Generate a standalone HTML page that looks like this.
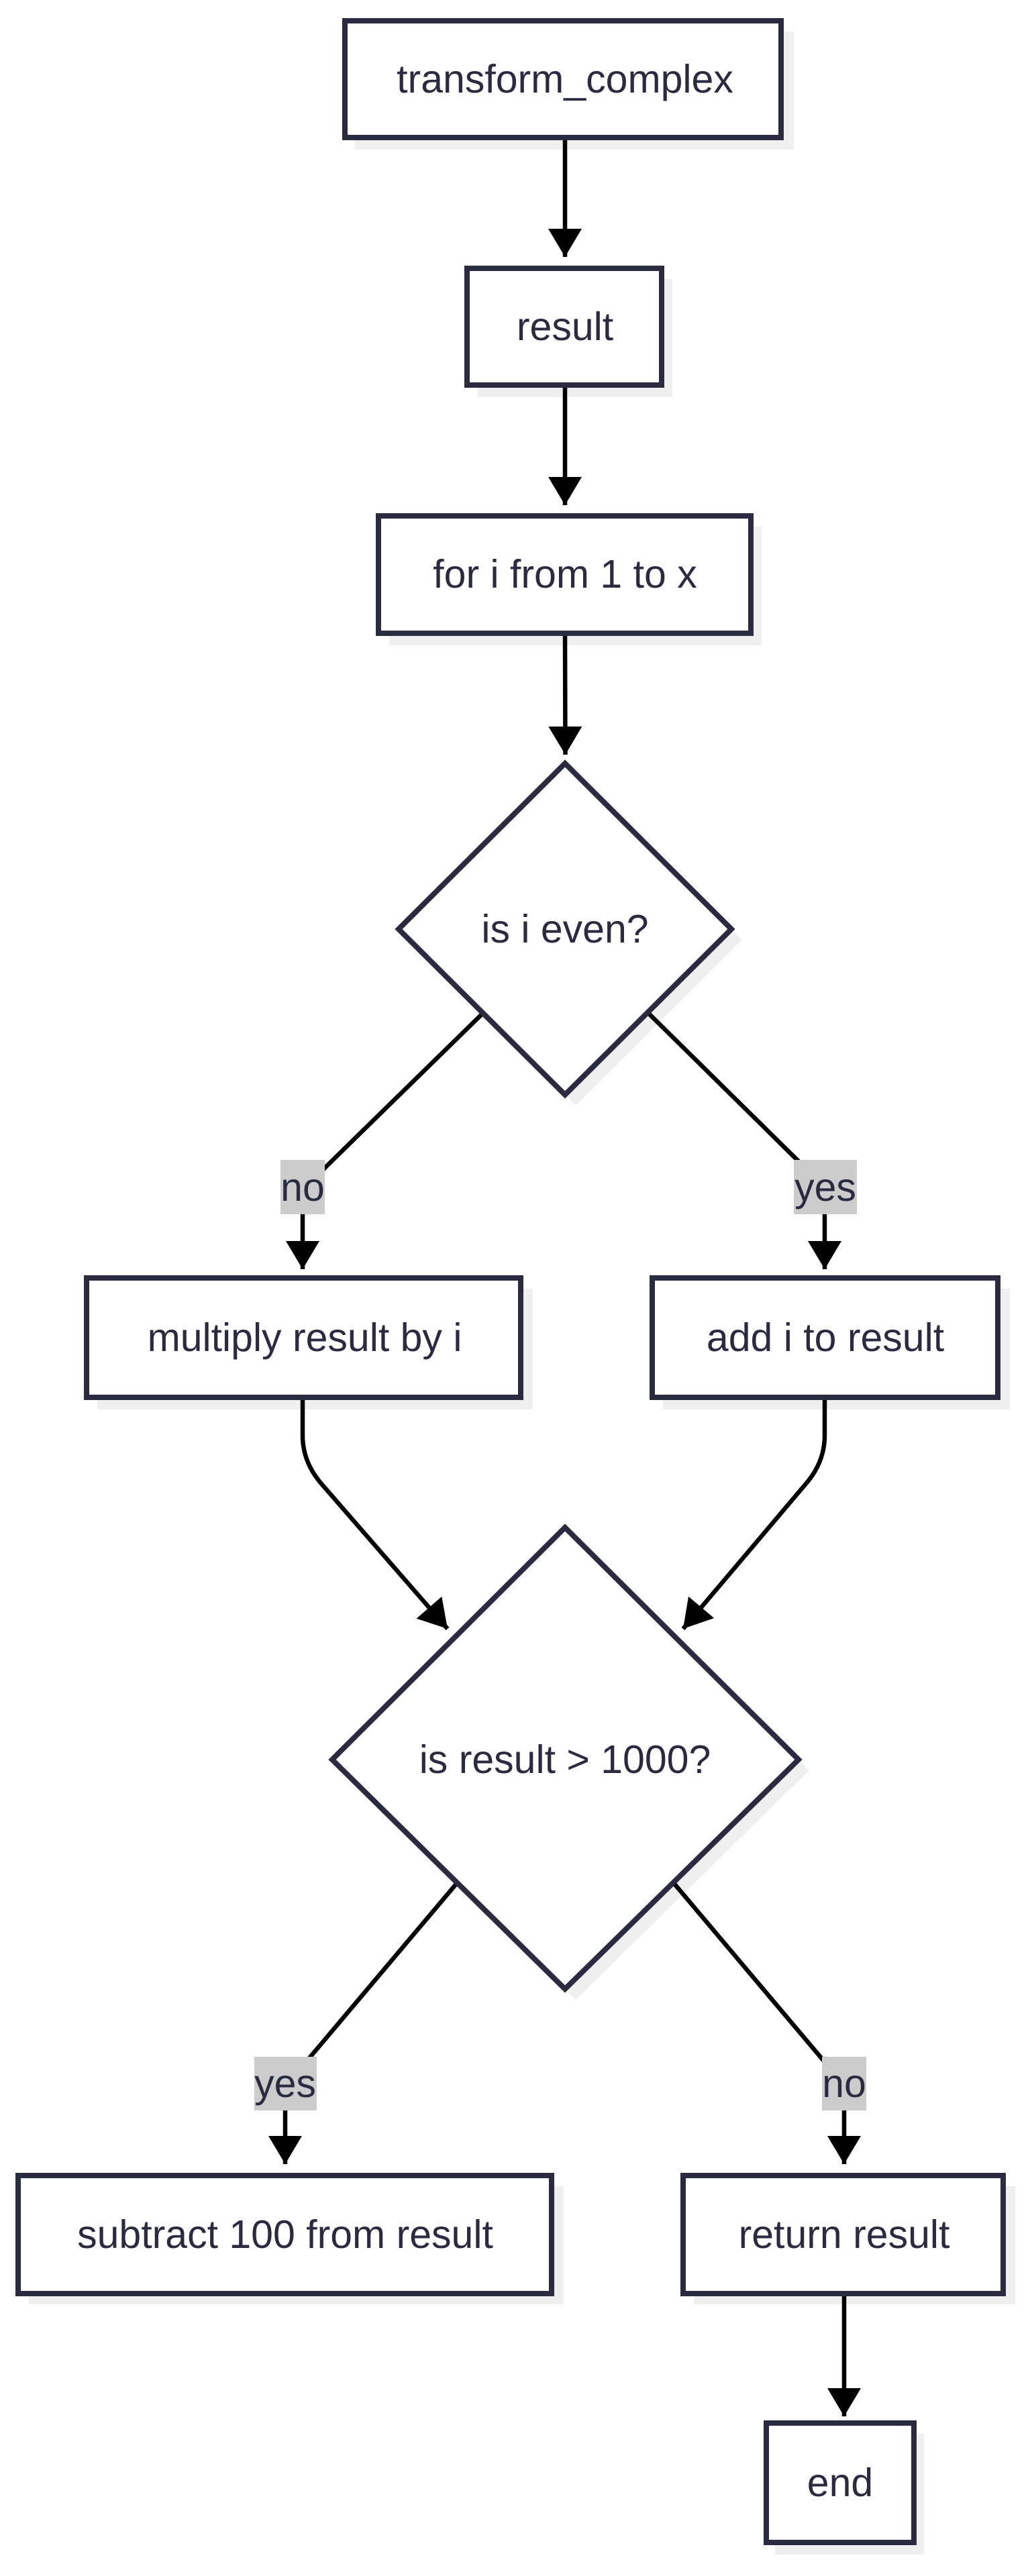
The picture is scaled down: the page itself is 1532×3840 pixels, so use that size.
<!DOCTYPE html>
<html><head><meta charset="utf-8"><style>
html,body{margin:0;padding:0;background:#fff;}
svg{display:block;}
text{font-family:"Liberation Sans",sans-serif;font-size:59px;fill:#2a2a40;text-anchor:middle;dominant-baseline:central;}
.b{fill:#fff;stroke:#2a2a40;stroke-width:8;}
.s{fill:#efefef;}
.e{fill:none;stroke:#000;stroke-width:6.5;}
.l{fill:#cccccc;}
</style></head><body>
<svg width="1532" height="3840" viewBox="0 0 1532 3840" xmlns="http://www.w3.org/2000/svg">
<defs>
<marker id="a" markerUnits="userSpaceOnUse" markerWidth="52" markerHeight="52" refX="42" refY="25" orient="auto">
<path d="M0,0 L42,25 L0,50 Z" fill="#000"/>
</marker>
</defs>
<g transform="translate(-3,0)">
<rect class="s" x="532" y="47" width="654" height="176"/>
<rect class="s" x="715" y="416" width="290" height="176"/>
<rect class="s" x="583" y="785" width="555" height="177"/>
<polygon class="s" points="861,1154 1109,1401 861,1648 613,1401"/>
<rect class="s" x="148" y="1921" width="649" height="180"/>
<rect class="s" x="991" y="1921" width="517" height="180"/>
<polygon class="s" points="861,2293 1209,2639 861,2981 514,2639"/>
<rect class="s" x="46" y="3259" width="797" height="176"/>
<rect class="s" x="1037" y="3259" width="479" height="176"/>
<rect class="s" x="1158" y="3628" width="222" height="180"/>

<path class="e" d="M845,205 L845,383" marker-end="url(#a)"/>
<path class="e" d="M845,574 L845,753" marker-end="url(#a)"/>
<path class="e" d="M845,944 L845.5,1125" marker-end="url(#a)"/>
<path class="e" d="M722,1511 L489,1739 Q454,1775 454,1810 L454,1892" marker-end="url(#a)"/>
<path class="e" d="M970,1511 L1193,1731 Q1232,1770 1232,1810 L1232,1892" marker-end="url(#a)"/>
<path class="e" d="M454,2083 L454,2140 Q454,2180 483,2213 L670,2428" marker-end="url(#a)"/>
<path class="e" d="M1232,2083 L1232,2140 Q1232,2180 1203,2213 L1021,2428" marker-end="url(#a)"/>
<path class="e" d="M684,2807 L463,3069 Q428,3107 428,3147 L428,3226" marker-end="url(#a)"/>
<path class="e" d="M1007,2807 L1228,3069 Q1261,3107 1261,3147 L1261,3226" marker-end="url(#a)"/>
<path class="e" d="M1261,3419 L1261,3602" marker-end="url(#a)"/>

<rect class="b" x="517" y="31" width="650" height="174"/>
<text x="845" y="118">transform_complex</text>
<rect class="b" x="699" y="400" width="290" height="174"/>
<text x="845" y="487">result</text>
<rect class="b" x="567" y="769" width="555" height="175"/>
<text x="845" y="856">for i from 1 to x</text>
<polygon class="b" points="845,1138 1093,1385 845,1632 597,1385"/>
<text x="845" y="1385">is i even?</text>
<rect class="b" x="132" y="1905" width="647" height="178"/>
<text x="457" y="1994">multiply result by i</text>
<rect class="b" x="975" y="1905" width="515" height="178"/>
<text x="1233" y="1994">add i to result</text>
<polygon class="b" points="845,2277 1193,2623 845,2965 498,2623"/>
<text x="845" y="2623">is result &gt; 1000?</text>
<rect class="b" x="30" y="3243" width="795" height="176"/>
<text x="428" y="3331">subtract 100 from result</text>
<rect class="b" x="1021" y="3243" width="477" height="176"/>
<text x="1261" y="3331">return result</text>
<rect class="b" x="1145" y="3612" width="220" height="178"/>
<text x="1255" y="3701">end</text>

<rect class="l" x="421" y="1729" width="66" height="81"/>
<text x="454" y="1770">no</text>
<rect class="l" x="1186" y="1729" width="94" height="81"/>
<text x="1233" y="1770">yes</text>
<rect class="l" x="382" y="3066" width="93" height="80"/>
<text x="428" y="3106">yes</text>
<rect class="l" x="1228" y="3066" width="66" height="80"/>
<text x="1261" y="3106">no</text>
</g>
</svg>
</body></html>
